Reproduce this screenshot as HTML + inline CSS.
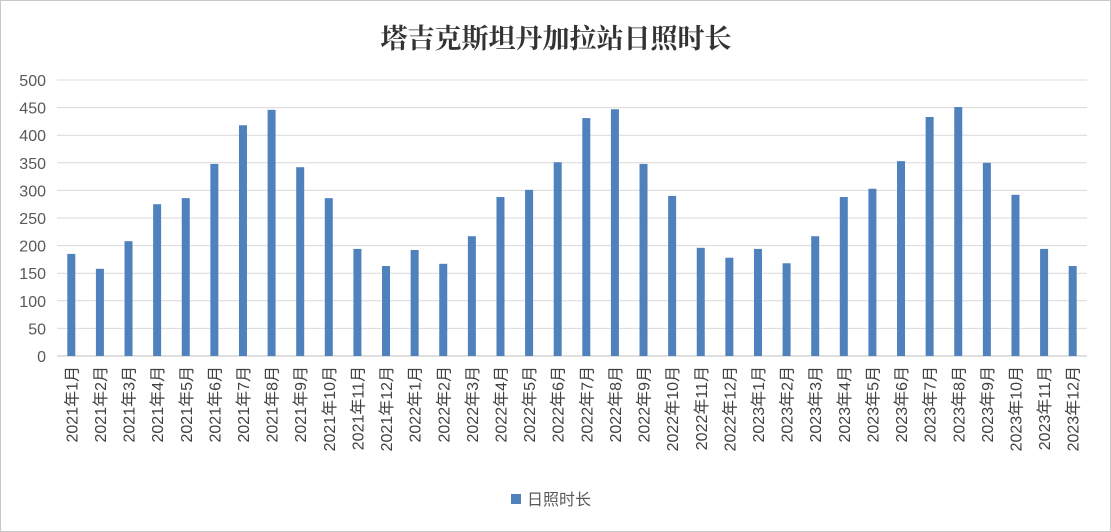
<!DOCTYPE html>
<html><head><meta charset="utf-8"><style>
body{margin:0;background:#fff}
#c{position:relative;width:1111px;height:532px;box-sizing:border-box;border:1px solid #c8c8c8;background:#fff;overflow:hidden}
</style></head><body>
<div id="c">
<svg id="s" width="1111" height="532" style="position:absolute;left:-1px;top:-1px"></svg>
</div>
<script>
const years=["2021","2022","2023"];
const months=[1,2,3,4,5,6,7,8,9,10,11,12];
const values=[185,158,208,275,286,348,418,446,342,286,194,163,
192,167,217,288,301,351,431,447,348,290,196,178,
194,168,217,288,303,353,433,451,350,292,194,163];
const yTicks=[0,50,100,150,200,250,300,350,400,450,500];
const categories=[];years.forEach(y=>months.forEach(m=>categories.push(y+"年"+m+"月")));
const NS="http://www.w3.org/2000/svg";
const svg=document.getElementById('s');
const L=57,R=1087,T=80,B=356,yMax=500;
const y=v=>B-(v/yMax)*(B-T);
const step=(R-L)/categories.length;
const xc=i=>L+step*(i+0.5);
function mk(t,a){const e=document.createElementNS(NS,t);for(const k in a)e.setAttribute(k,a[k]);svg.appendChild(e);return e;}
const title=mk('text',{x:556,y:48,'text-anchor':'middle','font-size':'27','font-weight':'bold','font-family':'"Liberation Serif","Noto Serif CJK SC",serif',fill:'#333'});


title.textContent='塔吉克斯坦丹加拉站日照时长';
yTicks.forEach(t=>{
 const g=mk('line',{x1:L,x2:R,y1:y(t),y2:y(t),stroke:t===0?'#bfbfbf':'#d9d9d9','stroke-width':1});
 
 
 const tx=mk('text',{x:46,y:y(t)+6,'text-anchor':'end','font-size':'16','font-family':'"Liberation Sans",sans-serif',fill:'#595959'});
 
 
 tx.textContent=t;
});
values.forEach((v,i)=>{
 const r=mk('rect',{x:xc(i)-4,y:y(v),width:8,height:B-y(v),fill:'#4f81bd'});
 
 
 const tx=mk('text',{x:0,y:0,'text-anchor':'end','font-size':'16','font-family':'"Liberation Sans","Noto Sans CJK SC",sans-serif',fill:'#404040',transform:`translate(${xc(i)+6},366) rotate(-90)`});
 
 
 tx.textContent=categories[i];
});
const lg=mk('rect',{x:511,y:494,width:10,height:10,fill:'#4f81bd'});


const lt=mk('text',{x:527,y:505,'font-size':'16','font-family':'"Liberation Sans","Noto Sans CJK SC",sans-serif',fill:'#595959'});


lt.textContent='日照时长';
</script>
</body></html>
